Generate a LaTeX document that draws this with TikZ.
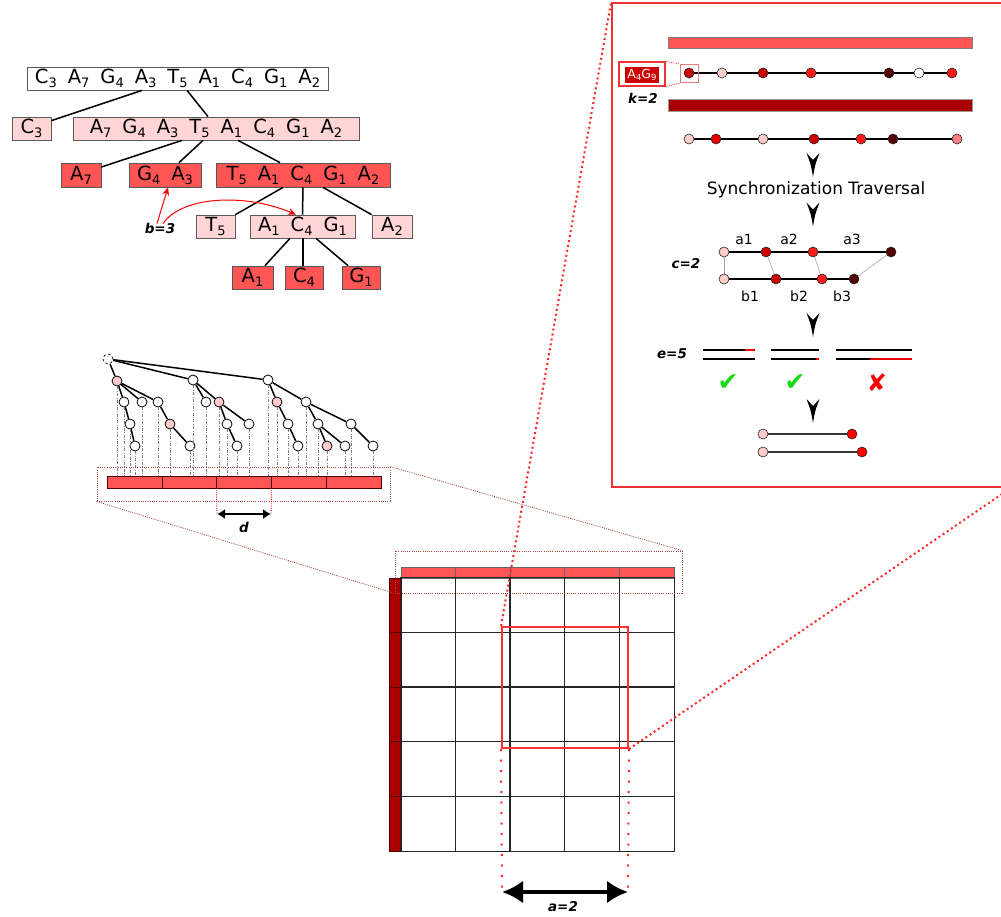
\documentclass[tikz,border=0pt]{standalone}
\usepackage{fontspec}
\setmainfont{DejaVu Sans}[BoldFont={DejaVu Sans Bold},ItalicFont={DejaVu Sans Oblique},BoldItalicFont={DejaVu Sans Bold Oblique}]
\usetikzlibrary{arrows.meta,calc}
\definecolor{pinkc}{HTML}{FFD5D5}
\definecolor{redc}{HTML}{FF5555}
\definecolor{dredc}{HTML}{AA0000}
\definecolor{ndark}{HTML}{CC0000}
\definecolor{nvd}{HTML}{550000}
\definecolor{nred}{HTML}{FF1A1A}
\definecolor{nsal}{HTML}{FF8080}
\definecolor{npink}{HTML}{FFCCCC}
\definecolor{brownd}{HTML}{A04848}
\definecolor{panelred}{HTML}{EE3333}
\definecolor{okgreen}{HTML}{11DD11}
\definecolor{sqred}{HTML}{E08080}
\newcommand\ix[1]{\raisebox{-3.8pt}{\fontsize{13}{13}\selectfont #1}}
\newcommand\ixs[1]{\raisebox{-2.5pt}{\fontsize{8.5}{8.5}\selectfont #1}}
\newcommand\gp{\hspace{11pt}}
\newcommand\tok[2]{#1\ix{#2}}
\begin{document}
\begin{tikzpicture}[x=1pt,y=-1pt,
  tbox/.style={draw=black!65,line width=0.8,minimum height=23,inner sep=0,font=\fontsize{19.5}{21}\selectfont},
  wbox/.style={tbox,fill=white},
  pbox/.style={tbox,fill=pinkc},
  rbox/.style={tbox,fill=redc,minimum height=24},
  edge/.style={line width=1.5,black},
  redarrow/.style={red,line width=1,-{Stealth[length=8,width=7]}},
  lbl/.style={font=\fontsize{13.5}{15}\selectfont\bfseries\itshape,inner sep=0},
  mn/.style={circle,draw=black,line width=0.8,minimum size=10,inner sep=0,fill=white},
  mp/.style={mn,fill=npink},
  vl/.style={gray,line width=0.6,dash pattern=on 3pt off 1.5pt on 0.8pt off 1.5pt},
  barc/.style={draw=black!70!red,line width=0.8,fill=redc,minimum width=54.8,minimum height=12,inner sep=0},
  bdot/.style={brownd,line width=0.8,dash pattern=on 1pt off 1.2pt},
  rdot/.style={red!85!white,line width=2,dash pattern=on 2pt off 3pt},
  rdotv/.style={red!85!white,line width=2,dash pattern=on 2pt off 8.5pt},
  gline/.style={draw=black!85,line width=1.3},
  hcell/.style={draw=black!60,line width=0.9,fill=redc,minimum width=54.6,minimum height=11,inner sep=0},
  lcell/.style={draw=nvd,line width=0.8,fill=dredc,minimum width=12,minimum height=54.6,inner sep=0},
  pn/.style={circle,draw=black!85,line width=0.6,minimum size=10,inner sep=0},
  chain/.style={black,line width=1.2},
  dhead/.pic={\fill[black] (0,12) .. controls (-2,0) .. (-6.5,-12) -- (0,-5) -- (6.5,-12) .. controls (2,0) .. (0,12) -- cycle;},
  sml/.style={font=\fontsize{14}{15}\selectfont,inner sep=0}
]
\path[use as bounding box] (0,0) rectangle (1001,917);
\clip (0,0) rectangle (1001,917);

% ---------------- top tree
\node[wbox,minimum width=301] (r) at (177.5,78.5) {\tok C3\gp\tok A7\gp\tok G4\gp\tok A3\gp\tok T5\gp\tok A1\gp\tok C4\gp\tok G1\gp\tok A2};
\node[pbox,minimum width=39] (c3) at (31.5,128.5) {\tok C3};
\node[pbox,minimum width=286] (l1) at (216,128.5) {\tok A7\gp\tok G4\gp\tok A3\gp\tok T5\gp\tok A1\gp\tok C4\gp\tok G1\gp\tok A2};
\node[rbox,minimum width=40] (a7) at (81,175) {\tok A7};
\node[rbox,minimum width=72] (g4) at (165,175) {\tok G4\gp\tok A3};
\node[rbox,minimum width=174] (t5b) at (303,175) {\tok T5\gp\tok A1\gp\tok C4\gp\tok G1\gp\tok A2};
\node[pbox,minimum width=39] (t5) at (215.5,226.5) {\tok T5};
\node[pbox,minimum width=105] (a1c) at (302.5,226.5) {\tok A1\gp\tok C4\gp\tok G1};
\node[pbox,minimum width=40] (a2) at (392,226.5) {\tok A2};
\node[rbox,minimum width=41,minimum height=23] (A1) at (252.5,277.5) {\tok A1};
\node[rbox,minimum width=38,minimum height=23] (C4) at (304,277.5) {\tok C4};
\node[rbox,minimum width=38,minimum height=23] (G1) at (361,277.5) {\tok G1};

\draw[edge] ([xshift=-35.5pt]r.south) -- ([yshift=-4pt]c3.north east);
\draw[edge] ([xshift=9.5pt]r.south) -- ([xshift=-8pt]l1.north);
\draw[edge] ([xshift=-34pt]l1.south) -- ([yshift=8pt]a7.east);
\draw[edge] ([xshift=-13pt]l1.south) -- ([xshift=14pt]g4.north);
\draw[edge] ([xshift=22pt]l1.south) -- ([xshift=-23pt]t5b.north);
\draw[edge] ([xshift=-20pt]t5b.south) -- (t5.north east);
\draw[edge] (t5b.south) -- (a1c.north);
\draw[edge] ([xshift=20pt]t5b.south) -- (a2.north west);
\draw[edge] ([xshift=-12.5pt]a1c.south) -- ([xshift=12.5pt]A1.north);
\draw[edge] ([xshift=0.5pt]a1c.south) -- ([xshift=-1pt]C4.north);
\draw[edge] ([xshift=13.5pt]a1c.south) -- ([xshift=-13pt]G1.north);

\node[lbl] (b) at (160,228) {b=3};
\draw[redarrow] ([xshift=-3pt,yshift=-1pt]b.north) -- ([xshift=3pt]g4.south);
\draw[redarrow] ([xshift=3pt,yshift=-1pt]b.north) .. controls (182,196) and (245,193) .. ([xshift=-6.5pt]a1c.north);

% ---------------- middle tree
\node[mn,densely dashed,line width=0.6] (m0) at (108,359) {};
\node[mp] (m1) at (117,381) {};
\node[mn] (m2) at (193,380) {};
\node[mn] (m3) at (268,380) {};
\node[mn] (m11) at (124,402) {};
\node[mn] (m12) at (142,402) {};
\node[mn] (m13) at (158,402) {};
\node[mn] (m21) at (206,402) {};
\node[mp] (m22) at (219,402) {};
\node[mp] (m31) at (277,402) {};
\node[mn] (m32) at (306,402) {};
\node[mn] (m111) at (130,424) {};
\node[mp] (m131) at (170,424) {};
\node[mn] (m221) at (227,424) {};
\node[mn] (m222) at (249,424) {};
\node[mn] (m311) at (288,424) {};
\node[mn] (m321) at (318,424) {};
\node[mn] (m322) at (351,424) {};
\node[mn] (m1111) at (135,446) {};
\node[mn] (m1311) at (190,446) {};
\node[mn] (m2211) at (237,446) {};
\node[mn] (m3111) at (298,446) {};
\node[mp] (m3211) at (327,446) {};
\node[mn] (m3212) at (345,446) {};
\node[mn] (m3221) at (373,446) {};

\foreach \a/\b in {m0/m1,m0/m2,m0/m3,m1/m11,m1/m12,m1/m13,m2/m21,m2/m22,m3/m31,m3/m32,
  m11/m111,m13/m131,m22/m221,m22/m222,m31/m311,m32/m321,m32/m322,
  m111/m1111,m131/m1311,m221/m2211,m311/m3111,m321/m3211,m321/m3212,m322/m3221}
  \draw[edge] (\a) -- (\b);

\node[barc] (c1) at (134.5,482) {};
\node[barc] (c2) at (189.5,482) {};
\node[barc] (c3b) at (244,482) {};
\node[barc] (c4) at (298.5,482) {};
\node[barc] (c5) at (353.5,482) {};
\coordinate (bt) at (0,476);
\foreach \n in {m1,m2,m3,m11,m12,m13,m21,m22,m31,m32,m111,m131,m221,m222,m311,m321,m322,m1111,m1311,m2211,m3111,m3211,m3212,m3221}
  \draw[vl] (\n.south) -- (\n |- bt);

\node[bdot,draw,minimum width=293,minimum height=34,inner sep=0] (mr) at (243.5,484) {};
\coordinate (dl) at (217,514);
\coordinate (dr) at (271,514);
\draw[red,line width=0.8,densely dotted] (c3b.south west) -- (dl);
\draw[red,line width=0.8,densely dotted] (c3b.south east) -- (dr);
\draw[line width=2,{Latex[length=8,width=10]}-{Latex[length=8,width=10]}] (dl) -- (dr);
\node[lbl] (d) at (244,527) {d};

% ---------------- grid
\foreach \i in {1,...,5}{
  \node[hcell] (h\i) at ({401+54.6*(\i-0.5)},572.5) {};
  \node[lcell] (v\i) at (395,{578+54.6*(\i-0.5)}) {};
}
\node[inner sep=0,minimum width=273,minimum height=273] (grid) at (537.5,714.5) {};
\foreach \k in {1,...,4}{
  \draw[gline] ([xshift={54.6*\k*1pt}]grid.north west) -- ([xshift={54.6*\k*1pt}]grid.south west);
  \draw[gline] ([yshift={-54.6*\k*1pt}]grid.north west) -- ([yshift={-54.6*\k*1pt}]grid.north east);
}
\draw[gline] (grid.north west) rectangle (grid.south east);
\node[bdot,draw,minimum width=287,minimum height=42,inner sep=0] (hr) at (538.5,572) {};
\draw[bdot] (mr.south west) -- (hr.south west);
\draw[bdot] (mr.north east) -- (hr.north east);

\node[draw=red!80!white,line width=2,minimum width=126,minimum height=121,inner sep=0] (sq) at (565,687.5) {};
\coordinate (al) at (502,892);
\coordinate (ar) at (628,892);
\draw[rdotv] (sq.south west) -- ([yshift=4pt]al);
\draw[rdotv] (sq.south east) -- ([yshift=4pt]ar);
\draw[line width=4.5,{Latex[length=21,width=23]}-{Latex[length=21,width=23]}] (al) -- (ar);
\node[lbl] (alab) at (563,907) {a=2};

% ---------------- right panel
\node[draw=panelred,line width=1.8,fill=white,minimum width=398,minimum height=484,inner sep=0] (panel) at (811,245) {};
\draw[rdot] (sq.north west) -- (panel.north west);
\draw[rdot] (sq.south east) -- (panel.south east);

\node[fill=redc,draw=black!50,line width=0.8,minimum width=304,minimum height=11,inner sep=0] (bar1) at (820,42.5) {};
\node[fill=dredc,draw=black!40,line width=0.8,minimum width=304,minimum height=12,inner sep=0] (bar2) at (820,105) {};

\node[pn,fill=ndark] (k1) at (689,73) {};
\node[pn,fill=npink] (k2) at (722,73) {};
\node[pn,fill=ndark] (k3) at (763,73) {};
\node[pn,fill=nred] (k4) at (811,73) {};
\node[pn,fill=nvd] (k5) at (889,73) {};
\node[pn,fill=white] (k6) at (919,73) {};
\node[pn,fill=nred] (k7) at (952,73) {};
\foreach \a/\b in {k1/k2,k2/k3,k3/k4,k4/k5,k5/k6,k6/k7} \draw[chain] (\a) -- (\b);

\node[draw=sqred,line width=0.9,minimum size=18,inner sep=0] (sqk) at (689.5,73.5) {};
\node[draw=panelred,line width=1.5,fill=white,minimum width=46,minimum height=24,inner sep=0] (ag) at (642,74) {};
\node[fill=ndark,text=white,minimum width=34,minimum height=16,inner sep=0,font=\fontsize{12.5}{13}\selectfont] (agt) at (642,75) {A\ixs{4}G\ixs{9}};
\draw[red!80!white,line width=0.8,densely dotted] (ag.north east) -- (sqk.north west);
\draw[red!80!white,line width=0.8,densely dotted] (ag.south east) -- (sqk.south west);
\node[lbl] (klab) at (643,98) {k=2};

\node[pn,fill=npink] (q1) at (689,139) {};
\node[pn,fill=red!90!black] (q2) at (716,139) {};
\node[pn,fill=npink] (q3) at (763,139) {};
\node[pn,fill=ndark] (q4) at (814,139) {};
\node[pn,fill=nred] (q5) at (861,139) {};
\node[pn,fill=nvd] (q6) at (893,139) {};
\node[pn,fill=nsal] (q7) at (957,139) {};
\foreach \a/\b in {q1/q2,q2/q3,q3/q4,q4/q5,q5/q6,q6/q7} \draw[chain] (\a) -- (\b);

\pic at (813,165) {dhead};
\node[font=\fontsize{17}{20}\selectfont,inner sep=0] (sync) at (816,190) {Synchronization Traversal};
\pic at (813,214.5) {dhead};

\node[pn,fill=npink] (t1) at (724,252) {};
\node[pn,fill=ndark] (t2) at (766,252) {};
\node[pn,fill=nred] (t3) at (813,252) {};
\node[pn,fill=nvd] (t4) at (891,252) {};
\node[pn,fill=npink] (u1) at (724,279) {};
\node[pn,fill=ndark] (u2) at (776,279) {};
\node[pn,fill=nred] (u3) at (822,279) {};
\node[pn,fill=nvd] (u4) at (854,279) {};
\foreach \a/\b in {t1/t2,t2/t3,t3/t4,u1/u2,u2/u3,u3/u4} \draw[chain,line width=1.4] (\a) -- (\b);
\foreach \a/\b in {t1/u1,t2/u2,t3/u3,t4/u4} \draw[black!35,line width=0.6] (\a) -- (\b);
\node[sml] at (744,239) {a1};
\node[sml] at (789,239) {a2};
\node[sml] at (852,239) {a3};
\node[sml] at (750,296) {b1};
\node[sml] at (799,296) {b2};
\node[sml] at (842,296) {b3};
\node[lbl] (clab) at (686,264) {c=2};
\pic at (813,325) {dhead};

\node[lbl] (elab) at (672,354) {e=5};
\draw[line width=2.6] (703,350) -- (755,350);
\draw[line width=2.6] (703,359) -- (755,359);
\draw[line width=2.6,red] (745,350) -- (755,350);
\draw[line width=2.6] (771,350) -- (819,350);
\draw[line width=2.6] (771,359) -- (819,359);
\draw[line width=2.6,red] (816,359) -- (819,359);
\draw[line width=2.6] (836,350) -- (912,350);
\draw[line width=2.6] (836,359) -- (912,359);
\draw[line width=2.6,red!90!black] (870,359) -- (912,359);
\node[text=okgreen,font=\fontsize{25}{25}\selectfont,inner sep=0] at (728,383) {✔};
\node[text=okgreen,font=\fontsize{25}{25}\selectfont,inner sep=0] at (795,383) {✔};
\node[text=red,font=\fontsize{24}{24}\selectfont,inner sep=0] at (877,383) {✘};
\pic at (813,411) {dhead};

\node[pn,fill=npink] (f1) at (763,434) {};
\node[pn,fill=red] (f2) at (852,434) {};
\node[pn,fill=npink] (f3) at (763,452) {};
\node[pn,fill=red] (f4) at (862,452) {};
\draw[black!80,line width=1.5] (f1) -- (f2);
\draw[black!80,line width=1.5] (f3) -- (f4);
\end{tikzpicture}
\end{document}
